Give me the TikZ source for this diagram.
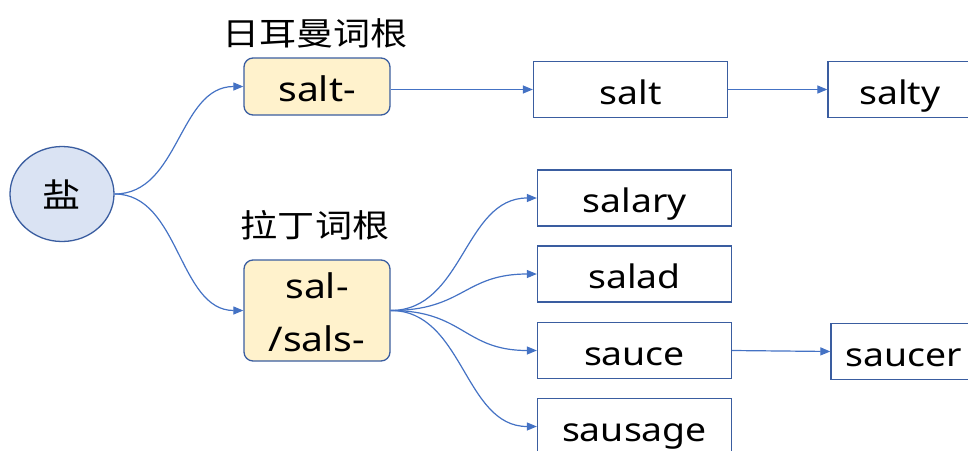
\documentclass[tikz,border=0pt]{standalone}
\usepackage{fontspec}
\setmainfont{Noto Sans}[FakeStretch=1.15]
\newfontfamily\cjk{Noto Sans CJK SC}[FakeStretch=1.16]
\usetikzlibrary{arrows.meta,shapes.geometric}
\definecolor{lineblue}{HTML}{4472C4}
\definecolor{boxblue}{HTML}{3A5DA0}
\definecolor{ellfill}{HTML}{DAE3F3}
\definecolor{yelfill}{HTML}{FFF2CC}
\begin{document}
\begin{tikzpicture}[x=1pt,y=-1pt,
  rootell/.style={ellipse,draw=boxblue,fill=ellfill,line width=1.3pt,minimum width=104pt,minimum height=95pt,inner sep=0pt,font=\fontsize{33}{38}\selectfont\cjk},
  rootbox/.style={rectangle,rounded corners=9pt,draw=boxblue,fill=yelfill,line width=1.3pt,minimum width=146pt,inner sep=0pt},
  roottext/.style={inner sep=0pt,anchor=base,font=\fontsize{34}{40}\selectfont},
  wordbox/.style={rectangle,draw=boxblue,fill=white,line width=1.3pt,minimum width=194pt,minimum height=56pt,inner sep=0pt,text height=33pt,text depth=4pt,font=\fontsize{32.5}{38}\selectfont},
  lbl/.style={inner sep=0pt,font=\fontsize{32}{36}\selectfont\cjk},
  conn/.style={draw=lineblue,line width=1.2pt,-{Triangle[length=10pt,width=8pt]}}
]
\useasboundingbox (0,0) rectangle (968,450);
\clip (0,0) rectangle (968,450);
\node[rootell] (yan) at (62,194) {盐};
\node[rootbox,minimum height=57pt] (saltr) at (317,86.5) {};
\node[roottext] (saltrt) at ([yshift=-14.5pt]saltr.center) {salt-};
\node[rootbox,minimum height=101pt] (salr) at (317,310.5) {};
\node[roottext] (salrt1) at ([yshift=12.5pt]salr.center) {sal-};
\node[roottext] (salrt2) at ([yshift=-40.5pt]salr.center) {/sals-};
\node[lbl] (lg) at (315,33) {日耳曼词根};
\node[lbl] (ll) at (315,225.5) {拉丁词根};
\node[wordbox] (salt) at (630.5,89.5) {salt};
\node[wordbox,minimum width=144pt] (salty) at (900,89.5) {salty};
\node[wordbox] (salary) at (634.5,198) {salary};
\node[wordbox] (salad) at (634.5,274) {salad};
\node[wordbox] (sauce) at (634.5,350.5) {sauce};
\node[wordbox] (sausage) at (634.5,426.5) {sausage};
\node[wordbox,minimum width=145pt] (saucer) at (903.5,351.5) {saucer};
\draw[conn] (yan.east) .. controls +(65,0) and +(-65,0) .. (saltr.west);
\draw[conn] (yan.east) .. controls +(65,0) and +(-65,0) .. (salr.west);
\draw[conn] (saltr.east |- salt.west) -- (salt.west);
\draw[conn] (salt.east) -- (salty.west);
\draw[conn] (sauce.east) -- (saucer.west);
\foreach \w in {salary,salad,sauce,sausage}
  \draw[conn] (salr.east) .. controls +(73,0) and +(-73,0) .. (\w.west);
\end{tikzpicture}
\end{document}
